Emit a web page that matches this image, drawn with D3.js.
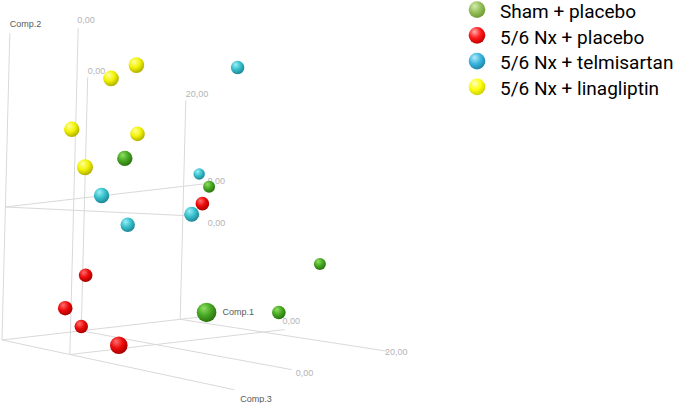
<!DOCTYPE html>
<html><head><meta charset="utf-8">
<script src="https://cdn.jsdelivr.net/npm/d3@7"></script>
<style>body{margin:0;background:#fff}svg{display:block}</style>
</head><body>
<svg id="chart" width="685" height="403"></svg>
<script>
// ---------------- data (PCA scores) ----------------
const groupNames = ["Sham + placebo", "5/6 Nx + placebo", "5/6 Nx + telmisartan", "5/6 Nx + linagliptin"];
const shamComp1 = [-9.3, 14.0, -2.9, 35.6, 24.1];
const shamComp2 = [5.6, 0.5, -11.9, -10.4, -15.1];
const shamComp3 = [2.7, -4.5, 11.5, -4.5, -1.1];
const nxPlaceboComp1 = [9.2, -12.4, -18.0, -12.6, -14.0];
const nxPlaceboComp2 = [-1.1, -8.0, -11.3, -14.1, -15.2];
const nxPlaceboComp3 = [-1.1, -1.1, 1.0, -1.5, 7.3];
const telmisartanComp1 = [15.6, 13.3, -13.4, 4.2, -6.4];
const telmisartanComp2 = [14.6, 2.1, 1.6, -1.9, -2.4];
const telmisartanComp3 = [-1.5, -5.7, 2.7, 1.8, 0.6];
const linagliptinComp1 = [-8.0, -12.6, -19.2, -5.4, -17.8];
const linagliptinComp2 = [16.3, 15.1, 9.7, 8.2, 5.2];
const linagliptinComp3 = [3.1, 3.1, 2.7, 1.0, 4.0];
const comp1Ticks = [0, 20];
const comp2Ticks = [0];
const comp3Ticks = [0];
const axisNames = ["Comp.1", "Comp.2", "Comp.3"];

// ---------------- projection ----------------
const c1Dom = [-16, 24], c2Dom = [-17, 23], c3Dom = [-15, 25];
const sU = d3.scaleLinear().domain(c1Dom).range([0, 1]);
const sV = d3.scaleLinear().domain(c2Dom).range([0, 1]);
const sW = d3.scaleLinear().domain(c3Dom).range([0, 1]);
const O = [2, 340], P1 = [198, -23], P2 = [8, -313], P3 = [166.4, -35], K = 0.208;
function project(c1, c2, c3) {
  const u = sU(c1), v = sV(c2), w = sW(c3), D = 1 - K * w;
  return [(O[0] + u * P1[0] + v * P2[0] + w * P3[0]) / D,
          (O[1] + u * P1[1] + v * P2[1] + w * P3[1]) / D];
}
const rScale = d3.scaleLinear().domain(c3Dom).range([3.5, 13]);
const fmt = v => d3.format(".2f")(v).replace(".", ",");

// ---------------- frame (axes + grid lines, in data space) ----------------
const lo1 = c1Dom[0], lo2 = c2Dom[0], lo3 = c3Dom[0];
const axes = [
  {a: [lo1, lo2, lo3], b: [25.5, lo2, lo3], dx: 15, dy: -1},
  {a: [lo1, lo2, lo3], b: [lo1, 22.2, lo3], dx: 0, dy: -6},
  {a: [lo1, lo2, lo3], b: [lo1, lo2, 28.2], dx: 6, dy: 12}
];
const grid = [];
const c1Top = {0: 15.4, 20: 11.0}, c1Front = {0: 22.1, 20: 18.5};
const c1FrontOff = {0: [4, 6], 20: [-2, 3.5]};
comp1Ticks.forEach(t => {
  grid.push({a: [t, lo2, lo3], b: [t, c1Top[t], lo3], label: fmt(t), dx: 0, dy: -3});
  grid.push({a: [t, lo2, lo3], b: [t, lo2, c1Front[t]], label: fmt(t), dx: c1FrontOff[t][0], dy: c1FrontOff[t][1]});
});
comp2Ticks.forEach(t => {
  grid.push({a: [lo1, t, lo3], b: [c1Dom[1], t, lo3], label: fmt(t), dx: 4, dy: 0});
  grid.push({a: [lo1, t, lo3], b: [lo1, t, 22.4], label: fmt(t), dx: 8, dy: 10});
});
comp3Ticks.forEach(t => {
  grid.push({a: [lo1, lo2, t], b: [lo1, 21.5, t], label: fmt(t), dx: -1, dy: -4.5});
  grid.push({a: [lo1, lo2, t], b: [c1Dom[1], lo2, t], label: fmt(t), dx: -2, dy: -5.5});
});

const svg = d3.select("#chart");
svg.append("rect").attr("width", 685).attr("height", 403).attr("fill", "#fff");

const frameG = svg.append("g");
const line = d3.line();
grid.concat(axes).forEach(g => {
  frameG.append("path").attr("d", line([project(...g.a), project(...g.b)]))
    .attr("stroke", "#d9d9d9").attr("stroke-width", 1).attr("fill", "none");
});
grid.forEach(g => {
  const p = project(...g.b);
  frameG.append("text").attr("x", p[0] + g.dx).attr("y", p[1] + g.dy)
    .attr("font-family", "Liberation Sans, Arial, sans-serif").attr("font-size", 9)
    .attr("fill", "#b4b4b4").text(g.label);
});
axes.forEach((g, i) => {
  const p = project(...g.b);
  frameG.append("text").attr("x", p[0] + g.dx).attr("y", p[1] + g.dy)
    .attr("font-family", "Liberation Sans, Arial, sans-serif").attr("font-size", 9)
    .attr("fill", "#5a5a5a").text(axisNames[i]);
});

// ---------------- sphere gradients ----------------
const ballColors = [
  ["#8fe060", "#46a622", "#2b7410"],
  ["#ff7070", "#ec0a0a", "#a80000"],
  ["#9af0f5", "#36bfcc", "#1f8895"],
  ["#ffffa0", "#f2f200", "#b0b000"]
];
const legendColors = [
  ["#d6ecb0", "#96c05a", "#6f9a36"],
  ["#ffb0b0", "#ff1a1a", "#c00000"],
  ["#b8ecfa", "#3bb6de", "#1d87aa"],
  ["#ffffc8", "#ffff10", "#d0d000"]
];
const defs = svg.append("defs");
function grad(id, c) {
  const g = defs.append("radialGradient").attr("id", id)
    .attr("cx", "40%").attr("cy", "35%").attr("r", "65%").attr("fx", "35%").attr("fy", "28%");
  g.append("stop").attr("offset", "0%").attr("stop-color", c[0]);
  g.append("stop").attr("offset", "55%").attr("stop-color", c[1]);
  g.append("stop").attr("offset", "100%").attr("stop-color", c[2]);
}
ballColors.forEach((c, i) => grad("ball" + i, c));
legendColors.forEach((c, i) => grad("leg" + i, c));

// ---------------- points ----------------
const series = [
  [shamComp1, shamComp2, shamComp3],
  [nxPlaceboComp1, nxPlaceboComp2, nxPlaceboComp3],
  [telmisartanComp1, telmisartanComp2, telmisartanComp3],
  [linagliptinComp1, linagliptinComp2, linagliptinComp3]
];
const points = [];
series.forEach((s, gi) => s[0].forEach((c1, j) => points.push({g: gi, c1, c2: s[1][j], c3: s[2][j]})));
points.sort((a, b) => a.c3 - b.c3);

svg.append("g").selectAll("circle").data(points).join("circle")
  .attr("cx", d => project(d.c1, d.c2, d.c3)[0])
  .attr("cy", d => project(d.c1, d.c2, d.c3)[1])
  .attr("r", d => rScale(d.c3))
  .attr("fill", d => `url(#ball${d.g})`);

// ---------------- legend ----------------
const legend = svg.append("g").attr("transform", "translate(477,0)");
const item = legend.selectAll("g").data(groupNames).join("g")
  .attr("transform", (d, i) => `translate(0,${i * 25.75})`);
item.append("circle").attr("cy", 9.6).attr("r", 8.3).attr("fill", (d, i) => `url(#leg${i})`);
item.append("text").attr("x", 23).attr("y", 17.8)
  .attr("font-family", "Roboto, sans-serif").attr("font-size", 19)
  .attr("fill", "#000").text(d => d);
</script>
</body></html>
